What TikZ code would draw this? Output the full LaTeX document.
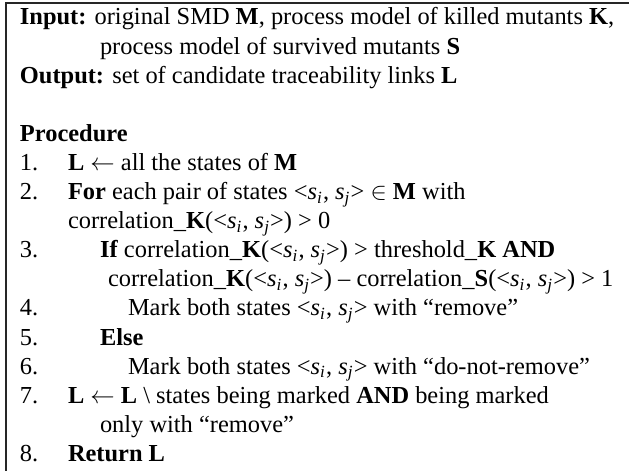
\documentclass[tikz,border=0pt]{standalone}
\usepackage{fontspec}
\setmainfont{Liberation Serif}
\newcommand\sv[1]{\textit{s}\textsubscript{\textit{#1}}}
\newcommand\pairs{<\sv{i}, \sv{j}>}
\begin{document}
\begin{tikzpicture}[x=0.4095pt,y=-0.4095pt,
  ln/.style={anchor=base west,inner sep=0pt,outer sep=0pt,font=\fontsize{10}{12}\selectfont},
  frame/.style={draw=black!85,line width=0.45pt}]
\useasboundingbox (0,0) rectangle (629,471);
\clip (0,0) rectangle (629,471);
\draw[frame] (6,3) rectangle (660,500);
% header
\def\bl#1{25+29.1*#1}
\node[ln] (in1) at (20,{\bl{0}}) {\textbf{Input:} original SMD \textbf{M}, process model of killed mutants \textbf{K},};
\node[ln] (in2) at (100,{\bl{1}}) {process model of survived mutants \textbf{S}};
\node[ln] (out) at (20,{\bl{2}}) {\textbf{Output:} set of candidate traceability links \textbf{L}};
\node[ln] (proc) at (20,{\bl{4}}) {\textbf{Procedure}};
% step numbers
\foreach \n/\k in {1/5,2/6,3/8,4/10,5/11,6/12,7/13,8/15}
  \node[ln] (num\n) at (20,{\bl{\k}}) {\n.};
% step bodies
\node[ln] (s1) at (68,{\bl{5}}) {\textbf{L} $\leftarrow$ all the states of \textbf{M}};
\node[ln] (s2) at (68,{\bl{6}}) {\textbf{For} each pair of states \pairs{} $\in$ \textbf{M} with};
\node[ln] (s2b) at (68,{\bl{7}}) {correlation\_\textbf{K}(\pairs) > 0};
\node[ln] (s3) at (100,{\bl{8}}) {\textbf{If} correlation\_\textbf{K}(\pairs) > threshold\_\textbf{K AND}};
\node[ln] (s3b) at (108,{\bl{9}}) {correlation\_\textbf{K}(\pairs) -- correlation\_\textbf{S}(\pairs) > 1};
\node[ln] (s4) at (128,{\bl{10}}) {Mark both states \pairs{} with ``remove''};
\node[ln] (s5) at (100,{\bl{11}}) {\textbf{Else}};
\node[ln] (s6) at (128,{\bl{12}}) {Mark both states \pairs{} with ``do-not-remove''};
\node[ln] (s7) at (68,{\bl{13}}) {\textbf{L} $\leftarrow$ \textbf{L} \textbackslash{} states being marked \textbf{AND} being marked};
\node[ln] (s7b) at (100,{\bl{14}}) {only with ``remove''};
\node[ln] (s8) at (68,{\bl{15}}) {\textbf{Return L}};
\end{tikzpicture}
\end{document}
